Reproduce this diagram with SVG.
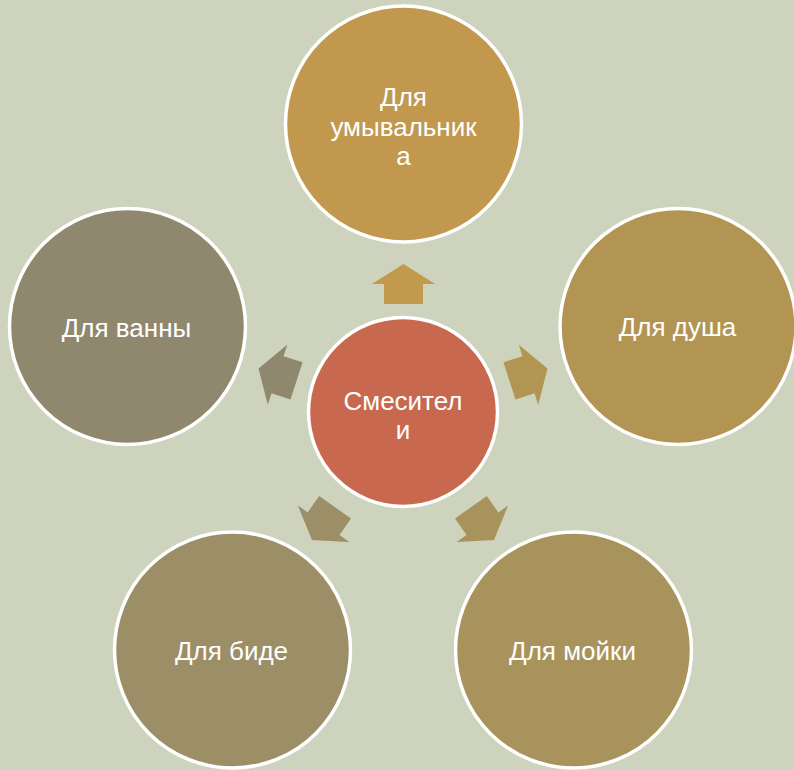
<svg xmlns="http://www.w3.org/2000/svg" width="794" height="770" viewBox="0 0 794 770">
<defs>
<style>
.c{stroke:#FFFFFF;stroke-width:3.5}
.t{font-family:"Liberation Sans",Arial,sans-serif;font-size:26px;fill:#FFFFFF;text-anchor:middle}
</style>
<polygon id="arr" points="0,0 -20,-31.5 -20,-19.5 -40,-19.5 -40,19.5 -20,19.5 -20,31.5"/>
</defs>
<rect width="794" height="770" fill="#CDD3BC"/>
<g id="connectors">
<use href="#arr" fill="#C19A4E" transform="translate(403.5,264) rotate(-90)"/>
<use href="#arr" fill="#B39553" transform="translate(547.5,368.5) rotate(-18)"/>
<use href="#arr" fill="#A8935D" transform="translate(494,540) rotate(54.7)"/>
<use href="#arr" fill="#9C8E66" transform="translate(312,540) rotate(125.3)"/>
<use href="#arr" fill="#8F886E" transform="translate(258.5,368.5) rotate(198)"/>
</g>
<g id="center">
<circle class="c" cx="403" cy="412" r="94.5" fill="#C7684F"/>
<text class="t" x="403" y="410">Смесител</text>
<text class="t" x="403" y="439">и</text>
</g>
<g id="top">
<circle class="c" cx="403.5" cy="124" r="118" fill="#C1984D"/>
<text class="t" x="403.5" y="106">Для</text>
<text class="t" x="403.5" y="135.5">умывальник</text>
<text class="t" x="403.5" y="164.5">а</text>
</g>
<g id="right">
<circle class="c" cx="678" cy="326.5" r="118" fill="#B39553"/>
<text class="t" x="677.5" y="336">Для душа</text>
</g>
<g id="bottom-right">
<circle class="c" cx="573.5" cy="650" r="118" fill="#A8935D"/>
<text class="t" x="572.5" y="660">Для мойки</text>
</g>
<g id="bottom-left">
<circle class="c" cx="232.5" cy="650" r="118" fill="#9C8E66"/>
<text class="t" x="231.5" y="660">Для биде</text>
</g>
<g id="left">
<circle class="c" cx="127.5" cy="326.5" r="118" fill="#8F886E"/>
<text class="t" x="126.5" y="336.5">Для ванны</text>
</g>
</svg>
